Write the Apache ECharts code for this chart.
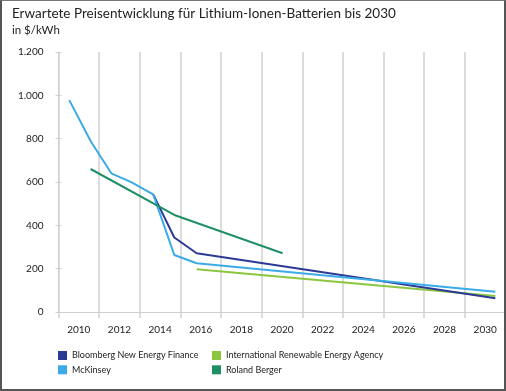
<!DOCTYPE html>
<html>
<head>
<meta charset="utf-8">
<script src="https://cdn.jsdelivr.net/npm/echarts@6/dist/echarts.min.js"></script>
<style>
html,body{margin:0;padding:0;background:#fff;}
#wrap{position:relative;width:506px;height:391px;}
#chart{position:absolute;left:0;top:0;width:506px;height:391px;}
#frame{position:absolute;left:0;top:0;width:506px;height:391px;box-sizing:border-box;border:2px solid #555;border-top:1px solid #777;pointer-events:none;}
</style>
</head>
<body>
<div id="wrap"><div id="chart"></div><div id="frame"></div></div>
<script>
// Category labels on the x axis (each band spans two years)
var xLabels = ['2010','2012','2014','2016','2018','2020','2022','2024','2026','2028','2030'];
// Series names
var seriesNames = ['Bloomberg New Energy Finance','McKinsey','International Renewable Energy Agency','Roland Berger'];
// Series values: [year position, $/kWh]
var bloomberg = [[2013.66, 543], [2014.7, 344], [2015.8, 271], [2030.5, 63]];
var mckinsey = [[2009.53, 978], [2010.6, 786], [2011.6, 640], [2012.6, 598], [2013.66, 543], [2014.7, 263], [2015.8, 225], [2030.5, 94]];
var irena = [[2015.8, 197], [2030.5, 74]];
var rolandBerger = [[2010.58, 660], [2014.7, 448], [2020.03, 271]];
// Y ticks
var yMin = 0, yMax = 1200, yStep = 200;

var colors = ['#2c3a96', '#3aabe6', '#8cc63f', '#1f9063'];
var FONT = 'Lato';

function fmt(v){ return String(v).replace(/\B(?=(\d{3})+(?!\d))/g, '.'); }

var chart = echarts.init(document.getElementById('chart'), null, {renderer:'canvas'});
var gridDef = {left: 58.5, right: 0.5, top: 52, bottom: 79};
var legendText = {fontSize: 9, color: '#222', fontFamily: FONT, lineHeight: 11};
var option = {
  animation: false,
  textStyle: {fontFamily: FONT},
  title: [{
    text: 'Erwartete Preisentwicklung für Lithium-Ionen-Batterien bis 2030',
    left: 7, top: 2,
    textStyle: {fontSize: 13.5, fontWeight: 'normal', color: '#222', fontFamily: FONT}
  },{
    text: 'in $/kWh',
    left: 7, top: 19,
    textStyle: {fontSize: 11.5, fontWeight: 'normal', color: '#222', fontFamily: FONT}
  }],
  legend: [{
    orient: 'vertical', left: 53, top: 345,
    data: [seriesNames[0], seriesNames[1]],
    icon: 'rect', itemWidth: 9, itemHeight: 9, itemGap: 3.3,
    textStyle: legendText
  },{
    orient: 'vertical', left: 207, top: 345,
    data: [seriesNames[2], seriesNames[3]],
    icon: 'rect', itemWidth: 9, itemHeight: 9, itemGap: 3.3,
    textStyle: legendText
  }],
  grid: gridDef,
  xAxis: [{
    type: 'category', data: xLabels, boundaryGap: true,
    axisLine: {show: true, lineStyle: {color: '#d0d0d0', width: 1}},
    axisTick: {show: true, length: 6, lineStyle: {color: '#d0d0d0', width: 1.5}},
    splitLine: {show: true, lineStyle: {color: '#d0d0d0', width: 1.5}},
    axisLabel: {fontSize: 10, color: '#222', margin: 13, fontFamily: FONT}
  },{
    type: 'value', min: 2009, max: 2031, show: false
  }],
  yAxis: [{
    type: 'value', min: yMin, max: yMax, interval: yStep,
    axisLine: {show: true, lineStyle: {color: '#d0d0d0', width: 1}},
    axisTick: {show: true, length: 3, lineStyle: {color: '#d0d0d0'}},
    splitLine: {show: false},
    axisLabel: {fontSize: 10, color: '#222', margin: 15, fontFamily: FONT, formatter: fmt}
  },{
    type: 'value', min: yMin, max: yMax, interval: yStep, position: 'left',
    axisLine: {show: false},
    axisTick: {show: true, inside: true, length: 3, lineStyle: {color: '#d0d0d0'}},
    axisLabel: {show: false}, splitLine: {show: false}
  }],
  series: [
    {name: seriesNames[0], type: 'line', xAxisIndex: 1, data: bloomberg, symbol: 'none', lineStyle: {width: 2, color: colors[0]}, itemStyle: {color: colors[0]}, z: 3},
    {name: seriesNames[1], type: 'line', xAxisIndex: 1, data: mckinsey, symbol: 'none', lineStyle: {width: 2, color: colors[1]}, itemStyle: {color: colors[1]}, z: 4},
    {name: seriesNames[2], type: 'line', xAxisIndex: 1, data: irena, symbol: 'none', lineStyle: {width: 2, color: colors[2]}, itemStyle: {color: colors[2]}, z: 2},
    {name: seriesNames[3], type: 'line', xAxisIndex: 1, data: rolandBerger, symbol: 'none', lineStyle: {width: 2, color: colors[3]}, itemStyle: {color: colors[3]}, z: 5}
  ]
};
chart.setOption(option);
</script>
</body>
</html>
